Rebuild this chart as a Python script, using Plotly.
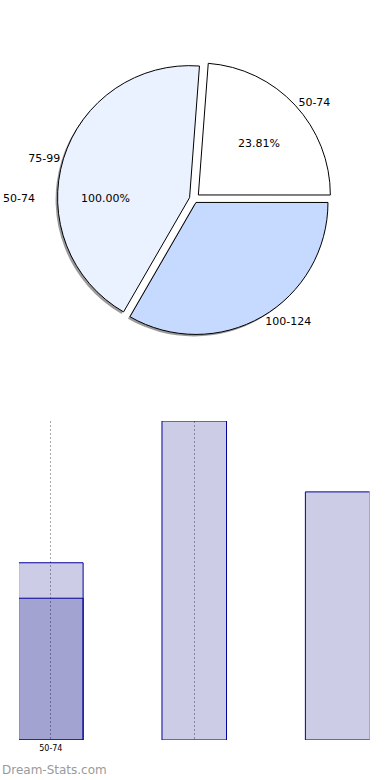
import plotly.graph_objects as go

# ---- data ----
categories = ["50-74", "75-99", "100-124"]
counts = [5, 9, 7]
overlay_counts = [4]
overlay_categories = ["50-74"]
pie_colors = ["#FFFFFF", "#EAF1FF", "#C6DAFF"]
pie_pull = [0.045, 0.035, 0.03]
artifact_label = "50-74"
artifact_pct = "100.00%"

W, H = 390, 780
total = sum(counts)
pct_first = f"{100 * counts[0] / total:.2f}%"

def px_x(x):
    return x / W

def px_y(y):
    return 1 - y / H

fig = go.Figure()

# pie geometry (pixels)
cx, cy, r = 194, 199, 132
half = r * (1 + max(pie_pull))
rot = 4.3

# shadow pie
fig.add_trace(go.Pie(
    labels=categories, values=counts, sort=False, direction="counterclockwise",
    rotation=rot, pull=pie_pull,
    marker=dict(colors=["rgba(0,0,0,0)", "#9a9a9a", "#9a9a9a"], line=dict(width=0)),
    textinfo="none", hoverinfo="skip", showlegend=False,
    domain=dict(x=[px_x(cx - 2 - half), px_x(cx - 2 + half)],
                y=[px_y(cy + 2 + half), px_y(cy + 2 - half)]),
))

fig.add_trace(go.Pie(
    labels=categories, values=counts, sort=False, direction="counterclockwise",
    rotation=rot, pull=pie_pull,
    marker=dict(colors=pie_colors, line=dict(color="#000000", width=1)),
    texttemplate="%{label}", textposition="outside",
    outsidetextfont=dict(family="DejaVu Sans", size=11, color="#000000"),
    showlegend=False,
    domain=dict(x=[px_x(cx - half), px_x(cx + half)],
                y=[px_y(cy + half), px_y(cy - half)]),
))

# bars
bar_fill = "rgba(0,0,128,0.2)"
fig.add_trace(go.Bar(
    x=categories, y=counts, marker=dict(color=bar_fill, line=dict(color="#000099", width=1)),
    showlegend=False, xaxis="x", yaxis="y",
))
fig.add_trace(go.Bar(
    x=overlay_categories, y=overlay_counts,
    marker=dict(color=bar_fill, line=dict(color="#000099", width=1)),
    showlegend=False, xaxis="x", yaxis="y",
))

txt_font = dict(family="DejaVu Sans", size=11, color="#000000")

fig.update_layout(
    width=W, height=H,
    margin=dict(l=0, r=0, t=0, b=0),
    paper_bgcolor="white", plot_bgcolor="white",
    barmode="overlay", bargap=0.55,
    xaxis=dict(
        domain=[px_x(19), px_x(369.5)], type="category",
        categoryorder="array", categoryarray=categories,
        range=[-0.222, 2.222],
        tickvals=categories[:2], ticktext=[categories[0], ""],
        showgrid=True, gridcolor="#a8a8a8", griddash="2px,2px", gridwidth=1,
        showline=False, zeroline=False, ticks="", ticklabelstandoff=2,
        tickfont=dict(family="DejaVu Sans", size=8, color="#000000"),
        fixedrange=True,
    ),
    yaxis=dict(
        domain=[px_y(740), px_y(421)], range=[0, max(counts)],
        showgrid=False, showticklabels=False, zeroline=False, showline=False,
        fixedrange=True,
    ),
    annotations=[
        dict(text=pct_first, x=px_x(259), y=px_y(143), xref="paper", yref="paper",
             xanchor="center", yanchor="middle", showarrow=False, font=txt_font),
        dict(text=artifact_pct, x=px_x(105), y=px_y(198), xref="paper", yref="paper",
             xanchor="center", yanchor="middle", showarrow=False, font=txt_font),
        dict(text=artifact_label, x=px_x(19), y=px_y(198), xref="paper", yref="paper",
             xanchor="center", yanchor="middle", showarrow=False, font=txt_font),
        dict(text="Dream-Stats.com", x=0, y=px_y(770), xref="paper", yref="paper",
             xanchor="left", yanchor="middle", showarrow=False,
             font=dict(family="DejaVu Sans", size=12, color="#9a9a9a")),
    ],
)

fig.write_html("out.html", config={"displayModeBar": False},
               post_script="document.body.style.margin='0';")
